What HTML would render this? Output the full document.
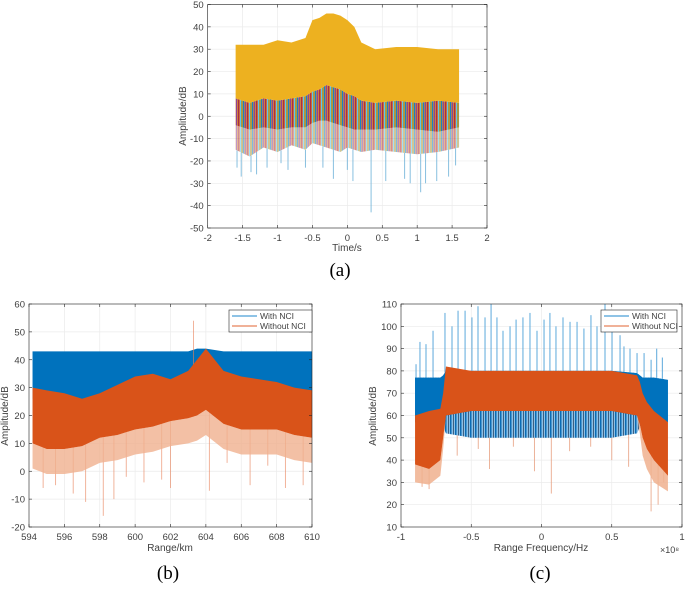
<!DOCTYPE html>
<html><head><meta charset="utf-8">
<style>
body{margin:0;background:#fff;width:685px;height:584px;overflow:hidden}
svg text{font-family:"Liberation Sans",sans-serif;fill:#404040}
.cap{font-family:"Liberation Serif",serif;fill:#000;font-size:19px}
</style></head>
<body>
<svg id="s" width="685" height="584" xmlns="http://www.w3.org/2000/svg">
<defs>
<pattern id="mix" width="9" height="4" patternUnits="userSpaceOnUse">
<rect width="9" height="4" fill="#c8702a"/>
<rect x="0" width="1.2" height="4" fill="#0072bd"/>
<rect x="2" width="1" height="4" fill="#7e2f8e"/>
<rect x="4" width="1.2" height="4" fill="#a2142f"/>
<rect x="6" width="1" height="4" fill="#4dbeee"/>
<rect x="7.5" width="1" height="4" fill="#77ac30"/>
</pattern>
<pattern id="bmix" width="5" height="4" patternUnits="userSpaceOnUse">
<rect width="5" height="4" fill="#8cc0e6"/>
<rect x="0" width="1.5" height="4" fill="#0a6cb4"/>
<rect x="3" width="1" height="4" fill="#3d5f80"/>
</pattern>
</defs>
</svg>
<script>
// ---------- Panel (a) data ----------
const aX   = [-1.6,-1.4,-1.2,-1.0,-0.8,-0.6,-0.5,-0.4,-0.3,-0.2,-0.1,0.0,0.1,0.2,0.4,0.7,1.0,1.3,1.6];
const aHi  = [32,32,32,34,33,35,43,44,46,46,45,43,40,33,30,31,31,30,30];
const aYel = [8,6,8,7,8,9,11,12,14,13,12,10,9,7,6,7,6,7,6];
const aMid = [-4,-6,-5,-6,-5,-5,-3,-2,-2,-3,-4,-5,-6,-6,-6,-5,-6,-7,-5];
const aLo  = [-15,-18,-14,-16,-13,-15,-12,-13,-14,-15,-16,-14,-15,-16,-15,-16,-17,-16,-14];
const aSpX = [-1.58,-1.52,-1.38,-1.3,-1.15,-0.95,-0.85,-0.6,-0.35,-0.2,0.0,0.08,0.34,0.55,0.82,0.9,1.05,1.12,1.28,1.45,1.55];
const aSpY = [-23,-27,-25,-26,-23,-21,-24,-23,-23,-28,-24,-29,-43,-29,-28,-30,-34,-30,-29,-27,-22];
const aXT  = [-2,-1.5,-1,-0.5,0,0.5,1,1.5,2];
const aYT  = [-50,-40,-30,-20,-10,0,10,20,30,40,50];
// ---------- Panel (b) data ----------
const bX    = [594.2,595,596,597,598,599,600,601,602,603,603.5,604,605,606,607,608,609,610];
const bBHi  = [43,43,43,43,43,43,43,43,43,43,44,44,43,43,43,43,43,43];
const bOHi  = [30,29,28,26,28,31,34,35,33,36,40,44,36,34,33,32,30,29];
const bOLo  = [10,8,8,9,12,13,15,16,18,19,20,22,17,15,15,15,13,12];
const bSpX  = [594.8,595.5,596.5,597.2,598.2,598.8,599.5,600.5,601.5,602.0,603.3,604.2,605.2,606.5,607.5,608.5,609.5];
const bSpY  = [-6,-5,-8,-11,-16,-10,-2,-4,-3,-6,54,-7,3,-5,2,-6,-5];
const bXT   = [594,596,598,600,602,604,606,608,610];
const bYT   = [-20,-10,0,10,20,30,40,50,60];
// ---------- Panel (c) data ----------
const cX    = [-0.9,-0.8,-0.72,-0.7,-0.68,-0.5,0,0.5,0.68,0.7,0.72,0.75,0.8,0.9];
const cBHi  = [77,77,77,78,80,80,80,80,79,78,77,77,77,76];
const cBLo  = [57,57,57,55,52,50,50,50,52,55,57,57,57,57];
const cOHi  = [60,62,63,70,82,80,80,80,78,75,70,66,62,57];
const cOLo  = [38,36,40,50,60,62,62,62,60,56,50,45,40,33];
const cOFr  = [30,29,33,45,60,62,62,62,60,52,42,36,30,26];
const cSpX  = [-0.893,-0.865,-0.822,-0.772,-0.687,-0.637,-0.594,-0.544,-0.495,-0.452,-0.402,-0.359,-0.317,-0.274,-0.224,-0.181,-0.132,-0.082,-0.032,0.018,0.06,0.103,0.153,0.203,0.253,0.302,0.352,0.395,0.452,0.502,0.559,0.587,0.63,0.68,0.73,0.78,0.82,0.86];
const cSpY  = [83,93,92,98,106,100,107,107,104,109,104,110,104,98,100,103,104,106,98,103,106,100,104,102,102,99,105,100,110,102,96,91,90,88,88,85,90,86];
const cDnX  = [-0.85,-0.8,-0.6,-0.45,-0.37,-0.2,-0.05,0.07,0.2,0.35,0.5,0.62,0.78,0.83,0.87];
const cDnY  = [28,27,42,45,36,46,35,25,44,46,40,37,17,20,30];
const cXT   = [-1,-0.5,0,0.5,1];
const cXTL  = ['-1','-0.5','0','0.5','1'];
const cYT   = [10,20,30,40,50,60,70,80,90,100,110];

const NS='http://www.w3.org/2000/svg', S=document.getElementById('s');
function el(t,a,p){const e=document.createElementNS(NS,t);for(const k in a)e.setAttribute(k,a[k]);(p||S).appendChild(e);return e;}
function interp(xs,ys,x){if(x<=xs[0])return ys[0];for(let i=1;i<xs.length;i++){if(x<=xs[i]){const t=(x-xs[i-1])/(xs[i]-xs[i-1]);return ys[i-1]+t*(ys[i]-ys[i-1]);}}return ys[ys.length-1];}
function axes(name,x0,x1,y0,y1,xd0,xd1,yd0,yd1){
  const g=el('g',{});
  
  
  return {g,sx:v=>x0+(v-xd0)/(xd1-xd0)*(x1-x0),sy:v=>y1-(v-yd0)/(yd1-yd0)*(y1-y0),x0,x1,y0,y1};
}
function frame(A,xt,xl,yt){
  el('rect',{x:A.x0,y:A.y0,width:A.x1-A.x0,height:A.y1-A.y0,fill:'#fff'},A.g);
  xt.forEach(v=>{const x=A.sx(v);el('line',{x1:x,x2:x,y1:A.y0,y2:A.y1,stroke:'#ebebeb','stroke-width':0.7},A.g);});
  yt.forEach(v=>{const y=A.sy(v);el('line',{x1:A.x0,x2:A.x1,y1:y,y2:y,stroke:'#ebebeb','stroke-width':0.7},A.g);});
}
function ticks(A,xt,xl,yt,fs){
  const g=el('g',{},A.g);
  
  
  el('rect',{x:A.x0,y:A.y0,width:A.x1-A.x0,height:A.y1-A.y0,fill:'none',stroke:'#262626','stroke-width':0.6},g);
  xt.forEach((v,i)=>{const x=A.sx(v);
    el('line',{x1:x,x2:x,y1:A.y1,y2:A.y1-3,stroke:'#262626','stroke-width':0.6},g);
    el('line',{x1:x,x2:x,y1:A.y0,y2:A.y0+3,stroke:'#262626','stroke-width':0.6},g);
    const t=el('text',{x:x,y:A.y1+13,'font-size':fs,'text-anchor':'middle'},g);t.textContent=xl?xl[i]:String(v);});
  yt.forEach(v=>{const y=A.sy(v);
    el('line',{x1:A.x0,x2:A.x0+3,y1:y,y2:y,stroke:'#262626','stroke-width':0.6},g);
    el('line',{x1:A.x1,x2:A.x1-3,y1:y,y2:y,stroke:'#262626','stroke-width':0.6},g);
    const t=el('text',{x:A.x0-4,y:y+3.5,'font-size':fs,'text-anchor':'end'},g);t.textContent=String(v);});
}
function band(A,xs,hi,lo,fill,op,name){
  let pts=xs.map((x,i)=>A.sx(x)+','+A.sy(hi[i]));
  for(let i=xs.length-1;i>=0;i--)pts.push(A.sx(xs[i])+','+A.sy(lo[i]));
  const p=el('polygon',{points:pts.join(' '),fill:fill,opacity:op},A.g);
  
  
}
function spikes(A,xs,ys,bx,by,col,op,name){
  const g=el('g',{},A.g);
  
  
  xs.forEach((x,i)=>{const b=interp(bx,by,x);el('line',{x1:A.sx(x),x2:A.sx(x),y1:A.sy(b),y2:A.sy(ys[i]),stroke:col,'stroke-width':1,opacity:op},g);});
}
function label(x,y,txt,fs,rot,name){
  const t=el('text',{x:x,y:y,'font-size':fs,'text-anchor':'middle',transform:rot?`rotate(-90 ${x} ${y})`:''});
  t.textContent=txt;
  
  
  return t;
}
function legend(x,y,w,h){
  const g=el('g',{});
  
  
  el('rect',{x:x,y:y,width:w,height:h,fill:'#fff',stroke:'#262626','stroke-width':0.6},g);
  const e1=el('g',{},g);
  
  
  el('line',{x1:x+3,x2:x+28,y1:y+6,y2:y+6,stroke:'#4a9fd8','stroke-width':1.2},e1);
  let t=el('text',{x:x+31,y:y+9,'font-size':8.5},e1);t.textContent='With NCI';
  const e2=el('g',{},g);
  
  
  el('line',{x1:x+3,x2:x+28,y1:y+16,y2:y+16,stroke:'#e8825a','stroke-width':1.2},e2);
  t=el('text',{x:x+31,y:y+19,'font-size':8.5},e2);t.textContent='Without NCI';
}

// ----- (a)
const A=axes('panel-a-plot',207.7,487,4.5,228,-2,2,-50,50);
frame(A,aXT,null,aYT);
spikes(A,aSpX,aSpY,aX,aLo,'#6ab0d8',0.8,'panel-a-spikes');
band(A,aX,aMid,aLo,'url(#mix)',0.5,'panel-a-low-band');
band(A,aX,aYel,aMid,'url(#mix)',0.9,'panel-a-mid-band');
band(A,aX,aHi,aYel,'#edb120',1,'panel-a-main-band');
ticks(A,aXT,null,aYT,9.5);
label(347,251,'Time/s',10,false,'panel-a-x-title');
label(186,116,'Amplitude/dB',10,true,'panel-a-y-title');
const ca=el('text',{x:340,y:276,'text-anchor':'middle',class:'cap'});ca.textContent='(a)';



// ----- (b)
const B=axes('panel-b-plot',29,312,304,527,594,610,-20,60);
frame(B,bXT,null,bYT);
band(B,bX,bBHi,bOHi.map(v=>v-4),'#0072bd',1,'panel-b-with-nci-band');
spikes(B,bSpX,bSpY,bX,bOLo,'#e8825a',0.6,'panel-b-without-nci-spikes');
band(B,bX,bOLo,bOLo.map(v=>v-9),'#f0b08e',0.8,'panel-b-without-nci-fringe');
band(B,bX,bOHi,bOLo,'#d95319',1,'panel-b-without-nci-band');
ticks(B,bXT,null,bYT,9.5);
legend(229,310,83,22);
label(170,551,'Range/km',10,false,'panel-b-x-title');
label(8,416,'Amplitude/dB',10,true,'panel-b-y-title');
const cb=el('text',{x:168,y:579,'text-anchor':'middle',class:'cap'});cb.textContent='(b)';



// ----- (c)
const C=axes('panel-c-plot',401,682,304,527,-1,1,10,110);
frame(C,cXT,cXTL,cYT);
spikes(C,cSpX,cSpY,cX,cBHi,'#4a9fd8',0.9,'panel-c-with-nci-spikes');
spikes(C,cDnX,cDnY,cX,cOLo,'#e8a080',0.8,'panel-c-down-spikes');
band(C,cX,cBHi,cBLo,'url(#bmix)',1,'panel-c-with-nci-fringe');
band(C,cX,cBHi,cBLo.map((v,i)=>Math.max(v,cOLo[i]>55?cOLo[i]:v)),'#0072bd',1,'panel-c-with-nci-band');
band(C,cX,cOLo,cOFr,'#f0b08e',0.85,'panel-c-without-nci-fringe');
band(C,cX,cOHi,cOLo,'#d95319',1,'panel-c-without-nci-band');
ticks(C,cXT,cXTL,cYT,9.5);
legend(601,310,76,22);
label(541,551,'Range Frequency/Hz',10,false,'panel-c-x-title');
label(376,416,'Amplitude/dB',10,true,'panel-c-y-title');
const ex=el('text',{x:660,y:553,'font-size':9});ex.textContent='×10⁸';


const cc=el('text',{x:540,y:579,'text-anchor':'middle',class:'cap'});cc.textContent='(c)';


</script>
</body></html>
